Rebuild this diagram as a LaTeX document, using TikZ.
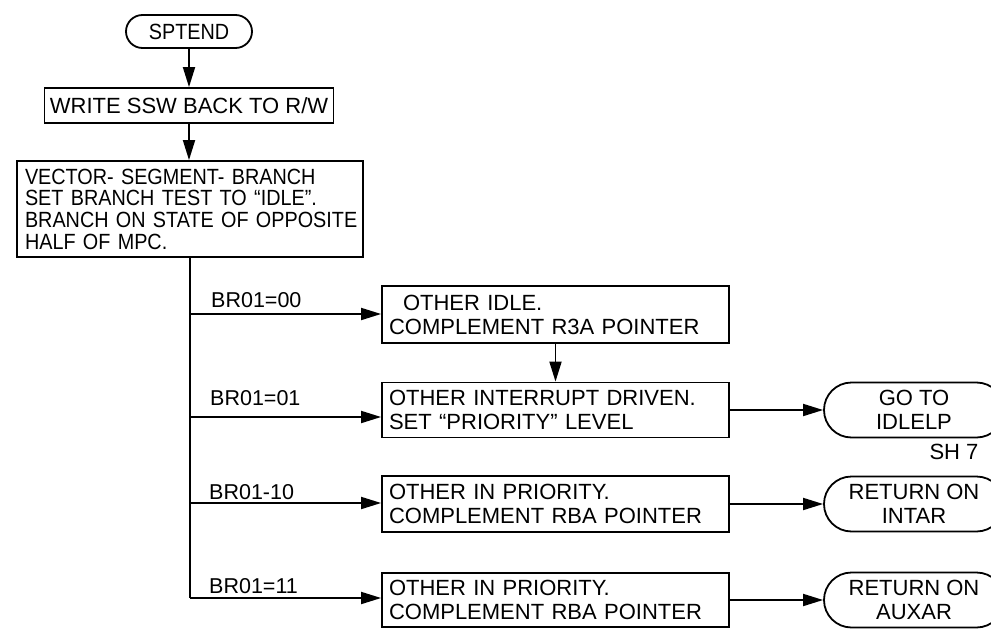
\documentclass[tikz,border=0pt]{standalone}
\usepackage{fontspec}
\setmainfont{Liberation Sans}
\newfontfamily\narrowfont{Liberation Sans}[FakeStretch=0.9]
\usetikzlibrary{arrows.meta,shapes.misc}
\begin{document}
\begin{tikzpicture}[x=1pt,y=-1pt,
  every node/.style={font=\fontsize{22}{24}\selectfont, inner sep=0pt},
  line/.style={line width=1.8pt},
  arr/.style={line width=1.8pt, -{Triangle[length=20pt,width=12pt]}},
  procbox/.style={draw, line width=1.8pt, rectangle, align=left, inner xsep=7pt, text width=333pt, minimum height=#1},
  term/.style={draw, line width=1.8pt, rounded rectangle, align=center},
  lbl/.style={font=\fontsize{21.5}{24}\selectfont, anchor=base west},
]
\useasboundingbox (0,0) rectangle (991,629);

\node[term, font=\narrowfont\fontsize{22}{24}\selectfont, minimum width=126pt, minimum height=33pt] (start) at (189,31.5) {SPTEND};
\node[draw, line, minimum width=289pt, minimum height=35pt] (write) at (189,105.5) {WRITE SSW BACK TO R/W};
\node[draw, line, align=left, text width=330pt, inner xsep=8pt, minimum height=96pt,
      font=\narrowfont\fontsize{22}{21.7}\selectfont] (vec) at (190,209)
  {\mbox{VECTOR- SEGMENT- BRANCH}\\\mbox{SET BRANCH TEST TO “IDLE”.}\\\mbox{BRANCH ON STATE OF OPPOSITE}\\\mbox{HALF OF MPC.}};

\node[procbox=57pt] (b1) at (555.5,314.5) {\hspace*{14pt}OTHER IDLE.\\\mbox{COMPLEMENT R3A POINTER}};
\node[procbox=55pt] (b2) at (555.5,410) {\mbox{OTHER INTERRUPT DRIVEN.}\\\mbox{SET “PRIORITY” LEVEL}};
\node[procbox=56pt] (b3) at (555.5,504) {\mbox{OTHER IN PRIORITY.}\\\mbox{COMPLEMENT RBA POINTER}};
\node[procbox=54pt] (b4) at (555.5,600) {\mbox{OTHER IN PRIORITY.}\\\mbox{COMPLEMENT RBA POINTER}};

\node[term, minimum width=180pt, minimum height=55pt] (t1) at (914,410) {GO TO\\IDLELP};
\node[term, minimum width=180pt, minimum height=55pt] (t2) at (914,504) {RETURN ON\\INTAR};
\node[term, minimum width=180pt, minimum height=55pt] (t3) at (914,600) {RETURN ON\\AUXAR};
\node (sh) at (954,452) {SH 7};

\coordinate (j1) at (190,314);
\coordinate (j2) at (190,417);
\coordinate (j3) at (190,503);
\coordinate (j4) at (190,598);

\draw[arr] (start) -- (write);
\draw[arr] (write.south) -- (write.south |- vec.north);
\draw[line] (vec.south) -- (j4);
\draw[arr] (j1) -- (j1 -| b1.west);
\draw[arr] (j2) -- (j2 -| b2.west);
\draw[arr] (j3) -- (j3 -| b3.west);
\draw[arr] (j4) -- (j4 -| b4.west);
\draw[arr] (b1.south) -- (b2.north);
\draw[arr] (b2.east) -- (t1.west);
\draw[arr] (b3.east) -- (t2.west);
\draw[arr] (b4.east) -- (t3.west);

\node[lbl] (l1) at (211,307) {BR01=00};
\node[lbl] (l2) at (210,405) {BR01=01};
\node[lbl] (l3) at (209,499) {BR01-10};
\node[lbl] (l4) at (209,593) {BR01=11};
\end{tikzpicture}
\end{document}
